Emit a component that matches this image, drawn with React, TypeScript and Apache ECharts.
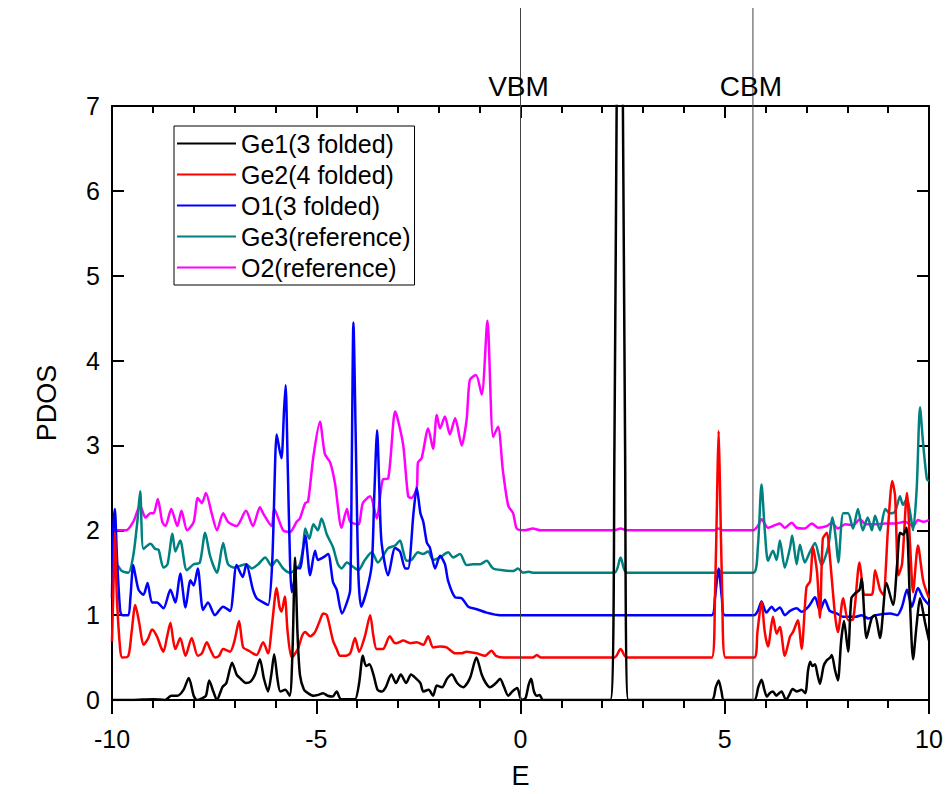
import React, { useEffect, useRef } from "react";
import * as echarts from "echarts";

type P = [number, number];

const seriesNames = ["Ge1(3 folded)", "Ge2(4 folded)", "O1(3 folded)", "Ge3(reference)", "O2(reference)"];
const seriesColors = ["#000000", "#ff0000", "#0000ff", "#008080", "#ff00ff"];

const ge1: P[] = [[-10,0],[-9.5,0],[-9.0,0.01],[-8.7,0],[-8.55,0.05],[-8.4,0.05],[-8.25,0.12],[-8.12,0.26],[-8.0,0.05],[-7.92,0],[-7.8,0.02],[-7.7,0.05],[-7.62,0.23],[-7.52,0.1],[-7.43,0],[-7.3,0.15],[-7.2,0.2],[-7.06,0.44],[-6.95,0.3],[-6.85,0.25],[-6.72,0.2],[-6.6,0.22],[-6.5,0.3],[-6.38,0.48],[-6.28,0.25],[-6.18,0.1],[-6.1,0.3],[-6.03,0.54],[-5.95,0.25],[-5.88,0.1],[-5.76,0.12],[-5.65,0.05],[-5.58,0.6],[-5.52,1.68],[-5.46,0.8],[-5.4,0.3],[-5.3,0.12],[-5.2,0.08],[-5.07,0.05],[-4.95,0.06],[-4.83,0.08],[-4.72,0.05],[-4.6,0.04],[-4.5,0.1],[-4.4,0.01],[-4.2,0.01],[-4.05,0.01],[-3.95,0.2],[-3.86,0.52],[-3.78,0.4],[-3.7,0.42],[-3.6,0.3],[-3.5,0.12],[-3.4,0.1],[-3.3,0.15],[-3.16,0.3],[-3.05,0.2],[-2.93,0.3],[-2.8,0.2],[-2.68,0.3],[-2.55,0.25],[-2.45,0.2],[-2.38,0.1],[-2.25,0.12],[-2.14,0.05],[-2.05,0.17],[-1.92,0.15],[-1.8,0.25],[-1.68,0.3],[-1.55,0.2],[-1.4,0.15],[-1.3,0.2],[-1.22,0.28],[-1.08,0.5],[-0.95,0.3],[-0.85,0.2],[-0.75,0.15],[-0.6,0.2],[-0.5,0.25],[-0.4,0.15],[-0.3,0.05],[-0.2,0.1],[-0.08,0.14],[0.02,0],[0.12,0.02],[0.2,0.18],[0.26,0.25],[0.33,0.1],[0.4,0.05],[0.47,0.06],[0.55,0],[2.2,0],[2.3,3],[2.36,7.5],[2.43,10],[2.5,7.5],[2.56,3],[2.64,0],[4.68,0],[4.78,0.15],[4.85,0.23],[4.92,0.1],[4.98,0],[5.72,0],[5.82,0.15],[5.9,0.24],[5.97,0.12],[6.03,0.04],[6.1,0.08],[6.18,0.1],[6.26,0.05],[6.33,0.08],[6.39,0.1],[6.5,0],[6.58,0.06],[6.66,0.13],[6.76,0.1],[6.88,0.12],[6.97,0.08],[7.04,0.35],[7.09,0.45],[7.15,0.4],[7.21,0.42],[7.27,0.3],[7.33,0.19],[7.42,0.4],[7.5,0.47],[7.58,0.5],[7.62,0.53],[7.7,0.35],[7.77,0.23],[7.85,0.7],[7.92,0.93],[8.02,0.57],[8.1,1.2],[8.2,1.26],[8.3,1.3],[8.35,1.43],[8.47,0.73],[8.6,0.97],[8.68,1.0],[8.8,0.73],[8.96,1.38],[9.12,1.12],[9.22,1.6],[9.29,1.97],[9.37,1.95],[9.45,2.03],[9.53,1.2],[9.61,0.48],[9.7,0.9],[9.78,1.2],[9.9,0.92],[10,0.7]];

const ge2: P[] = [[-10,0.69],[-9.95,1.6],[-9.93,1.97],[-9.88,1.2],[-9.8,0.6],[-9.75,0.5],[-9.6,0.52],[-9.52,0.8],[-9.43,1.12],[-9.33,0.9],[-9.23,0.65],[-9.12,0.72],[-9.02,0.83],[-8.9,0.75],[-8.8,0.62],[-8.74,0.57],[-8.65,0.75],[-8.57,0.91],[-8.5,0.7],[-8.45,0.6],[-8.33,0.73],[-8.2,0.52],[-8.05,0.73],[-7.9,0.52],[-7.8,0.55],[-7.68,0.68],[-7.58,0.58],[-7.48,0.5],[-7.38,0.52],[-7.28,0.6],[-7.11,0.57],[-7.0,0.7],[-6.89,0.93],[-6.79,0.62],[-6.65,0.58],[-6.55,0.55],[-6.46,0.53],[-6.3,0.68],[-6.18,0.55],[-6.08,0.9],[-5.97,1.32],[-5.9,1.1],[-5.85,1.04],[-5.77,1.22],[-5.7,0.8],[-5.6,0.5],[-5.45,0.6],[-5.35,0.75],[-5.27,0.8],[-5.15,0.75],[-5.03,0.8],[-4.9,0.95],[-4.83,1.02],[-4.74,1.0],[-4.59,0.7],[-4.5,0.6],[-4.42,0.52],[-4.3,0.52],[-4.17,0.55],[-4.05,0.73],[-3.95,0.57],[-3.81,0.75],[-3.68,1.0],[-3.6,0.75],[-3.52,0.6],[-3.37,0.6],[-3.2,0.75],[-3.1,0.68],[-3.03,0.67],[-2.87,0.7],[-2.7,0.67],[-2.54,0.68],[-2.38,0.65],[-2.26,0.75],[-2.14,0.62],[-1.97,0.63],[-1.81,0.62],[-1.6,0.55],[-1.45,0.55],[-1.32,0.57],[-1.07,0.55],[-0.87,0.52],[-0.71,0.58],[-0.6,0.52],[-0.4,0.5],[0,0.5],[0.3,0.5],[0.4,0.53],[0.5,0.5],[2.3,0.5],[2.45,0.6],[2.6,0.5],[4.68,0.5],[4.76,1.2],[4.82,2.6],[4.85,3.17],[4.88,2.6],[4.94,1.2],[5.02,0.5],[5.72,0.5],[5.8,0.8],[5.9,1.16],[5.98,0.8],[6.06,0.63],[6.18,0.98],[6.27,0.78],[6.35,0.86],[6.47,0.52],[6.6,0.75],[6.67,0.8],[6.79,0.94],[6.88,0.6],[7.0,1.33],[7.09,1.4],[7.16,1.8],[7.26,1.5],[7.33,0.97],[7.4,1.9],[7.5,1.97],[7.57,1.7],[7.7,1.0],[7.77,0.8],[7.9,1.2],[8.02,0.94],[8.14,0.95],[8.3,1.62],[8.43,1.24],[8.6,1.24],[8.68,1.53],[8.8,1.3],[8.88,1.24],[9.0,2.05],[9.1,2.58],[9.17,2.4],[9.25,1.47],[9.34,1.6],[9.46,2.44],[9.54,1.8],[9.61,1.27],[9.73,1.82],[9.86,1.4],[10,1.2]];

const o1: P[] = [[-10,1.2],[-9.97,2.0],[-9.93,2.25],[-9.88,1.7],[-9.8,1.05],[-9.75,1.0],[-9.6,1.0],[-9.55,1.2],[-9.48,1.59],[-9.42,1.45],[-9.35,1.3],[-9.23,1.24],[-9.13,1.38],[-9.02,1.15],[-8.9,1.15],[-8.74,1.08],[-8.57,1.3],[-8.45,1.15],[-8.33,1.49],[-8.2,1.09],[-8.08,1.41],[-8.0,1.35],[-7.9,1.55],[-7.77,1.06],[-7.65,1.15],[-7.48,1.0],[-7.28,1.1],[-7.11,1.05],[-6.95,1.59],[-6.8,1.45],[-6.71,1.6],[-6.55,1.3],[-6.46,1.2],[-6.3,1.15],[-6.18,1.12],[-6.08,1.6],[-6.0,2.9],[-5.97,3.13],[-5.9,2.95],[-5.85,2.85],[-5.79,3.4],[-5.75,3.71],[-5.7,2.8],[-5.64,1.6],[-5.6,1.27],[-5.52,1.45],[-5.48,1.56],[-5.4,1.55],[-5.27,1.94],[-5.15,1.47],[-5.03,1.76],[-4.96,1.65],[-4.83,1.68],[-4.71,1.72],[-4.59,1.39],[-4.5,1.3],[-4.37,1.02],[-4.25,1.15],[-4.17,1.3],[-4.13,2.8],[-4.09,4.45],[-4.03,3.0],[-3.97,1.5],[-3.9,1.1],[-3.76,1.3],[-3.64,1.6],[-3.58,2.4],[-3.51,3.18],[-3.45,2.4],[-3.4,1.85],[-3.24,1.47],[-3.07,1.79],[-2.95,1.75],[-2.82,1.55],[-2.75,1.55],[-2.62,2.2],[-2.54,2.5],[-2.45,2.2],[-2.38,2.1],[-2.29,1.85],[-2.22,1.8],[-2.09,1.55],[-1.97,1.7],[-1.85,1.6],[-1.77,1.4],[-1.6,1.21],[-1.44,1.2],[-1.28,1.1],[-1.07,1.07],[-0.83,1.03],[-0.5,1.0],[0,1.0],[4.68,1.0],[4.76,1.2],[4.85,1.55],[4.93,1.2],[5.0,1.0],[5.72,1.0],[5.81,1.05],[5.9,1.16],[6.02,1.03],[6.15,1.1],[6.23,1.05],[6.35,1.09],[6.47,1.0],[6.6,1.05],[6.76,1.08],[6.88,1.04],[7.05,1.1],[7.21,1.21],[7.33,1.05],[7.45,1.18],[7.57,1.05],[7.74,1.02],[7.9,0.98],[8.2,0.98],[8.35,1.0],[8.52,0.96],[8.7,1.0],[9.05,1.02],[9.22,1.0],[9.34,1.1],[9.46,1.3],[9.58,1.1],[9.73,1.32],[9.86,1.2],[10,1.12]];

const ge3: P[] = [[-10,1.53],[-9.88,1.59],[-9.76,1.52],[-9.6,1.5],[-9.48,1.7],[-9.38,2.1],[-9.31,2.46],[-9.23,1.78],[-9.06,1.84],[-8.94,1.78],[-8.86,1.77],[-8.74,1.56],[-8.64,1.6],[-8.52,1.96],[-8.45,1.75],[-8.33,1.88],[-8.17,1.53],[-8.0,1.6],[-7.85,1.62],[-7.72,1.97],[-7.6,1.7],[-7.43,1.5],[-7.28,1.85],[-7.16,1.6],[-6.99,1.56],[-6.87,1.58],[-6.71,1.6],[-6.58,1.55],[-6.42,1.6],[-6.25,1.68],[-6.09,1.58],[-5.97,1.65],[-5.81,1.55],[-5.64,1.5],[-5.48,1.55],[-5.4,1.6],[-5.32,1.8],[-5.27,2.02],[-5.17,1.9],[-5.07,2.07],[-4.96,2.0],[-4.87,2.14],[-4.74,1.95],[-4.59,1.8],[-4.47,1.6],[-4.38,1.55],[-4.25,1.62],[-4.1,1.57],[-3.97,1.53],[-3.81,1.65],[-3.64,1.74],[-3.49,1.62],[-3.36,1.7],[-3.24,1.79],[-3.07,1.82],[-2.95,1.88],[-2.87,1.75],[-2.79,1.64],[-2.67,1.65],[-2.51,1.74],[-2.39,1.72],[-2.26,1.75],[-2.14,1.65],[-1.97,1.68],[-1.77,1.74],[-1.65,1.68],[-1.48,1.72],[-1.32,1.59],[-1.16,1.6],[-0.99,1.6],[-0.83,1.64],[-0.67,1.55],[-0.43,1.53],[-0.18,1.52],[-0.06,1.55],[0.06,1.5],[0.2,1.51],[0.3,1.5],[2.3,1.5],[2.45,1.68],[2.6,1.5],[4.75,1.5],[4.85,1.53],[4.95,1.5],[5.7,1.5],[5.81,1.8],[5.9,2.54],[5.98,2.0],[6.06,1.64],[6.18,1.76],[6.27,1.65],[6.35,1.88],[6.47,1.56],[6.6,1.8],[6.65,1.94],[6.76,1.6],[6.84,1.83],[6.96,1.62],[7.09,1.75],[7.21,1.85],[7.37,1.59],[7.53,1.8],[7.64,2.15],[7.72,1.9],[7.78,1.62],[7.9,2.2],[8.02,2.2],[8.14,2.02],[8.26,2.25],[8.38,2.0],[8.5,2.15],[8.6,2.0],[8.68,2.17],[8.8,2.0],[8.93,2.25],[9.05,2.2],[9.17,2.22],[9.29,2.4],[9.36,2.3],[9.46,2.37],[9.54,2.2],[9.61,2.0],[9.7,2.5],[9.78,3.45],[9.86,3.0],[9.95,2.6],[10,2.58]];

const o2: P[] = [[-10,2.0],[-9.65,2.0],[-9.48,2.1],[-9.31,2.29],[-9.18,2.15],[-9.06,2.2],[-8.98,2.2],[-8.88,2.37],[-8.77,2.1],[-8.69,2.05],[-8.55,2.25],[-8.4,2.05],[-8.3,2.23],[-8.16,2.0],[-8.0,2.1],[-7.9,2.38],[-7.8,2.32],[-7.7,2.44],[-7.56,2.2],[-7.43,2.0],[-7.28,2.2],[-7.16,2.1],[-6.95,2.05],[-6.72,2.23],[-6.55,2.05],[-6.38,2.27],[-6.3,2.2],[-6.09,2.05],[-6.03,2.25],[-5.81,2.0],[-5.64,1.98],[-5.48,2.1],[-5.4,2.14],[-5.27,2.32],[-5.2,2.34],[-5.07,2.87],[-4.91,3.28],[-4.79,2.9],[-4.66,2.8],[-4.54,2.55],[-4.38,2.03],[-4.25,2.25],[-4.17,2.1],[-3.97,2.07],[-3.86,2.32],[-3.68,2.4],[-3.52,2.14],[-3.37,2.6],[-3.24,2.61],[-3.07,3.4],[-3.0,3.3],[-2.87,3.0],[-2.75,2.4],[-2.67,2.38],[-2.54,2.5],[-2.51,2.8],[-2.42,2.85],[-2.26,3.2],[-2.14,2.96],[-2.05,3.36],[-1.97,3.2],[-1.85,3.34],[-1.73,3.13],[-1.6,3.32],[-1.44,3.0],[-1.32,3.3],[-1.24,3.77],[-1.09,3.83],[-0.95,3.6],[-0.81,4.47],[-0.67,3.1],[-0.55,3.22],[-0.43,2.7],[-0.3,2.29],[-0.18,2.2],[-0.09,2.02],[0.1,2.0],[0.3,2.02],[0.5,2.0],[2.3,2.0],[2.45,2.02],[2.6,2.0],[4.75,2.0],[4.85,2.02],[4.95,2.0],[5.7,2.0],[5.81,2.05],[5.9,2.13],[6.06,2.03],[6.18,2.05],[6.35,2.08],[6.47,2.03],[6.64,2.09],[6.76,2.03],[6.96,2.02],[7.13,2.08],[7.29,2.03],[7.5,2.05],[7.62,2.09],[7.77,2.02],[7.95,2.07],[8.14,2.06],[8.31,2.13],[8.45,2.07],[8.68,2.07],[8.93,2.08],[9.17,2.08],[9.41,2.1],[9.61,2.05],[9.73,2.12],[9.86,2.1],[10,2.12]];

const seriesData = [ge1, ge2, o1, ge3, o2];

const bandEdgeNames = ["VBM", "CBM"];
const bandEdgeEnergies = [0, 5.69];

const FONT = "'Liberation Sans', Arial, sans-serif";

export default function App() {
  const ref = useRef<HTMLDivElement>(null);
  useEffect(() => {
    const chart = echarts.init(ref.current!, null, { renderer: "svg" });
    const axisLine = { show: true, onZero: false, lineStyle: { color: "#000", width: 2 } };
    chart.setOption({
      animation: false,
      backgroundColor: "#fff",
      grid: { left: 112, right: 22, top: 106, bottom: 88, containLabel: false },
      xAxis: [
        {
          type: "value", min: -10, max: 10, interval: 5, position: "bottom",
          axisLine,
          axisTick: { show: true, inside: false, length: 14, lineStyle: { color: "#000", width: 2 } },
          minorTick: { show: true, splitNumber: 5, length: 8, lineStyle: { color: "#000", width: 2 } },
          splitLine: { show: false },
          axisLabel: { fontSize: 25, color: "#000", margin: 26, fontFamily: FONT },
          name: "E", nameLocation: "middle", nameGap: 62,
          nameTextStyle: { fontSize: 27, color: "#000", fontFamily: FONT },
        },
        {
          type: "value", min: -10, max: 10, interval: 5, position: "top",
          axisLine,
          axisTick: { show: true, inside: true, length: 12, lineStyle: { color: "#000", width: 2 } },
          minorTick: { show: true, splitNumber: 5, length: 7, lineStyle: { color: "#000", width: 2 } },
          splitLine: { show: false },
          axisLabel: { show: false },
        },
      ],
      yAxis: [
        {
          type: "value", min: 0, max: 7, interval: 1, position: "left",
          axisLine,
          axisTick: { show: true, inside: true, length: 12, lineStyle: { color: "#000", width: 2 } },
          splitLine: { show: false },
          axisLabel: { fontSize: 25, color: "#000", margin: 12, fontFamily: FONT },
          name: "PDOS", nameLocation: "middle", nameGap: 52, nameRotate: 90,
          nameTextStyle: { fontSize: 27, color: "#000", fontFamily: FONT },
        },
        {
          type: "value", min: 0, max: 7, interval: 1, position: "right",
          axisLine,
          axisTick: { show: true, inside: true, length: 12, lineStyle: { color: "#000", width: 2 } },
          splitLine: { show: false },
          axisLabel: { show: false },
        },
      ],
      legend: {
        data: seriesNames,
        orient: "vertical",
        left: 174, top: 126,
        icon: "rect",
        itemWidth: 59, itemHeight: 2, itemGap: 6,
        padding: [5, 4, 5, 3],
        borderColor: "#000", borderWidth: 1,
        textStyle: { fontSize: 25, color: "#000", fontFamily: FONT },
      },
      series: seriesData.map((d, i) => ({
        name: seriesNames[i],
        type: "line",
        data: d,
        xAxisIndex: 0, yAxisIndex: 0,
        showSymbol: false,
        symbol: "none",
        smooth: 0.25,
        clip: true,
        color: seriesColors[i],
        lineStyle: { color: seriesColors[i], width: 2.5 },
        z: 10 - i,
      })),
    });

    const yBottom = chart.convertToPixel({ yAxisIndex: 0 }, 0) as number;
    const graphics: any[] = [];
    bandEdgeEnergies.forEach((e, i) => {
      const x = chart.convertToPixel({ xAxisIndex: 0 }, e) as number;
      graphics.push({
        type: "line", z: 20,
        shape: { x1: x, y1: 8, x2: x, y2: yBottom },
        style: { stroke: "#444", lineWidth: 1 },
      });
      graphics.push({
        type: "text", z: 20,
        x: x - 2, y: 100,
        style: {
          text: bandEdgeNames[i], fontSize: 28, fontFamily: FONT, fill: "#000",
          textAlign: "center", textVerticalAlign: "bottom", align: "center", verticalAlign: "bottom",
        },
      });
    });
    chart.setOption({ graphic: graphics });

    return () => chart.dispose();
  }, []);
  return <div ref={ref} style={{ position: "fixed", left: 0, top: 0, width: 951, height: 794 }} />;
}
